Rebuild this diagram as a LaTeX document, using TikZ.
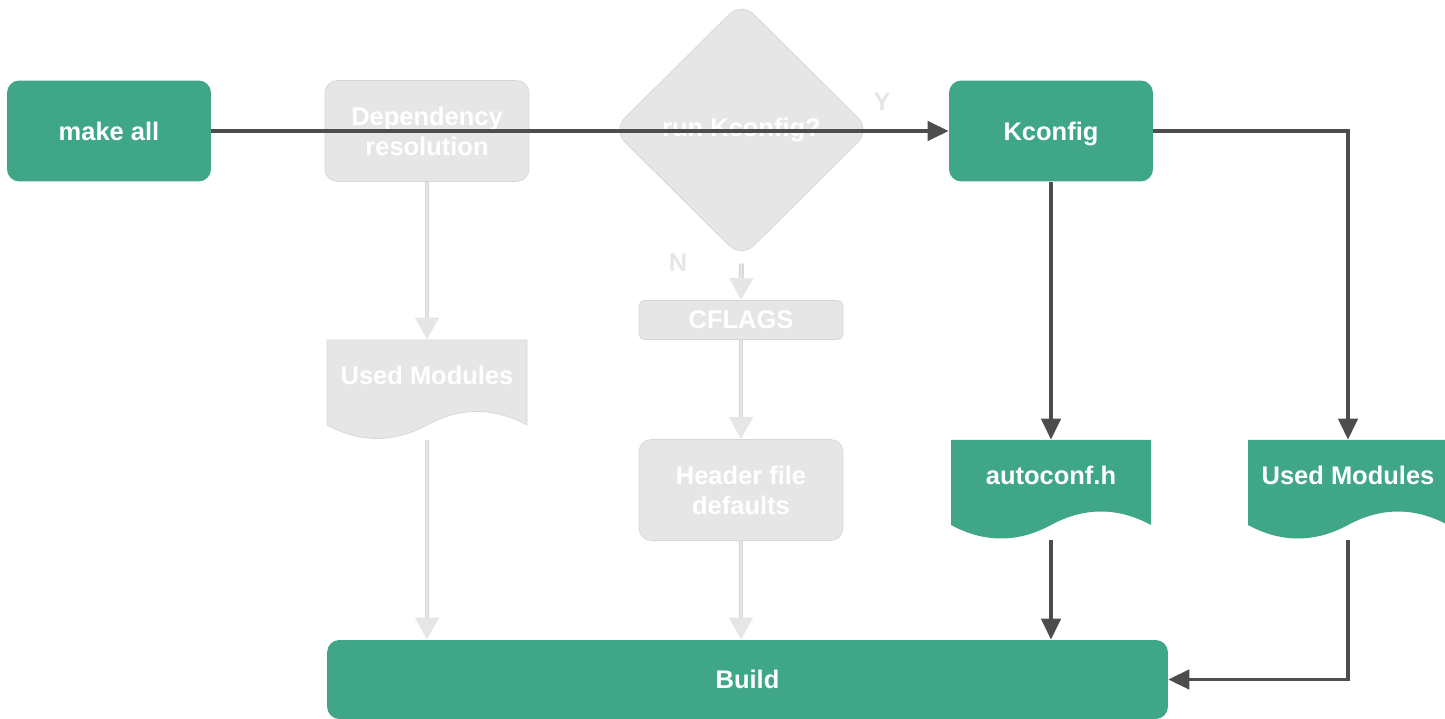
\documentclass[tikz,border=0pt]{standalone}
\usepackage{fontspec}
\setmainfont{Liberation Sans}
\usepackage{tikz}
\usetikzlibrary{arrows.meta,shapes.geometric}

\definecolor{kgreen}{HTML}{40A688}
\definecolor{kgray}{HTML}{E6E6E6}
\definecolor{kedge}{HTML}{D6D6D6}
\definecolor{kdark}{HTML}{4D4D4D}

% document shape, top left corner at (#2,#3)
\newcommand{\docnode}[5]{%
  \begin{scope}[shift={(#2,#3)}]
  \path[#4] (0,0) -- (200,0) -- (200,85)
    .. controls (166.67,67) and (133.33,67) .. (100,85)
    .. controls (66.67,103) and (33.33,103) .. (0,85) -- cycle;
  \node[docbox] (#1) at (100,50) {};
  \node[txt] (#1-txt) at (100,35) {#5};
  \end{scope}}

\begin{document}
\begin{tikzpicture}[x=0.02cm,y=-0.02cm,
  txt/.style={font=\bfseries\fontsize{14.5}{17}\selectfont,text=white,align=center,inner sep=0pt},
  greenbox/.style={txt,rectangle,rounded corners=7pt,fill=kgreen,minimum width=4.08cm,minimum height=2.02cm},
  graybox/.style={greenbox,fill=kgray,draw=kedge,line width=0.4pt},
  docbox/.style={rectangle,minimum width=4cm,minimum height=2cm,inner sep=0pt},
  greendoc/.style={fill=kgreen},
  graydoc/.style={fill=kgray,draw=kedge,line width=0.4pt},
  lbl/.style={font=\bfseries\fontsize{14.5}{17}\selectfont,text=kgray,inner sep=0pt},
  darr/.style={draw=kdark,line width=2.1pt,-{Triangle[length=12pt,width=11pt]}},
  garr/.style={draw=kedge,line width=2.8pt,-{Triangle[length=12.5pt,width=13pt,color=kgray]},
    postaction={draw=kgray,line width=1.1pt,-,shorten >=12pt}}]
\useasboundingbox (0,0) rectangle (1445,719);

% faded part
\node[graybox] (dep) at (427,131) {Dependency\\resolution};
\node[diamond,fill=kgray,draw=kedge,line width=0.4pt,rounded corners=10pt,
  minimum width=5.16cm,minimum height=5.12cm,inner sep=0pt,txt] (q) at (741.5,130) {run Kconfig?};
\node[graybox,minimum height=0.78cm,rounded corners=3pt] (cflags) at (741,320) {CFLAGS};
\node[graybox] (hdr) at (741,490) {Header file\\defaults};
\docnode{usedl}{327}{340}{graydoc}{Used Modules}
\node[lbl] (ylbl) at (882,102) {Y};
\node[lbl] (nlbl) at (678,263) {N};

% active part
\node[greenbox] (make) at (109,131) {make all};
\node[greenbox,text depth=0pt] (kconf) at (1051,131) {Kconfig};
\docnode{autoconf}{951}{440}{greendoc}{autoconf.h}
\docnode{usedr}{1248}{440}{greendoc}{Used Modules}
\node[greenbox,minimum width=16.82cm,minimum height=1.58cm] (build) at (747.5,679.5) {Build};

\draw[garr] (dep.south) -- (usedl.north);
\draw[garr] (usedl.south) -- (usedl.south |- build.north);
\draw[garr,shorten <=3pt] (q.south) -- (cflags.north);
\draw[garr] (cflags.south) -- (hdr.north);
\draw[garr] (hdr.south) -- (hdr.south |- build.north);

\draw[darr] (make.east) -- (kconf.west);
\draw[darr] (kconf.south) -- (autoconf.north);
\draw[darr] (kconf.east) -| (usedr.north);
\draw[darr] (autoconf.south) -- (autoconf.south |- build.north);
\draw[darr] (usedr.south) |- (build.east);

\end{tikzpicture}
\end{document}
